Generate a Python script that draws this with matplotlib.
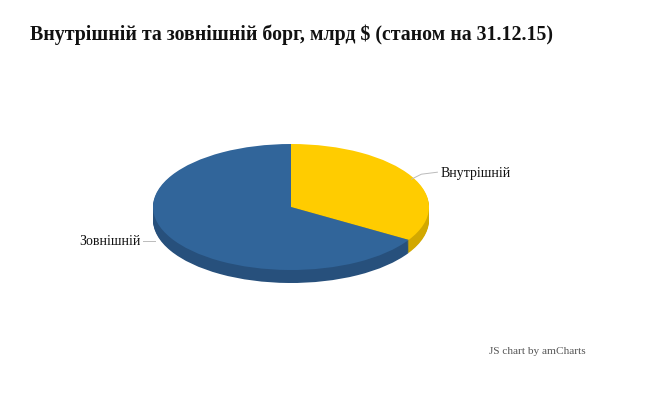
import numpy as np
import matplotlib
matplotlib.use("Agg")
import matplotlib.pyplot as plt

# ── data ─────────────────────────────────────────────────────────────────────
labels = ["Внутрішній", "Зовнішній"]
values = [22.1, 43.4]          # млрд $
title = "Внутрішній та зовнішній борг, млрд $ (станом на 31.12.15)"

# ── colours ──────────────────────────────────────────────────────────────────
C_TOP  = ["#FFCC00", "#31659A"]
C_SIDE = ["#D2A800", "#27507C"]

W, H = 645, 401
CX, CY = 291, 207      # pie centre (px, from top)
RX, RY = 138, 63       # ellipse radii (px)
DEPTH = 13             # 3D thickness (px)

plt.rcParams["font.family"] = ["Liberation Serif", "DejaVu Serif"]

fig = plt.figure(figsize=(W / 100, H / 100), dpi=100)
fig.patch.set_facecolor("white")

# pie axes: y extended downward to hold the side wall
extra = DEPTH / RY
ax = fig.add_axes([(CX - RX) / W, (H - CY - RY - DEPTH) / H,
                   2 * RX / W, (2 * RY + DEPTH) / H])

n = 14
for k in range(n, 0, -1):
    off = -extra * k / n
    ax.pie(values, colors=C_SIDE, startangle=90, counterclock=False,
           center=(0, off), wedgeprops=dict(linewidth=0))
ax.pie(values, colors=C_TOP, startangle=90, counterclock=False,
       wedgeprops=dict(linewidth=0))
ax.set_aspect("auto")
ax.set_xlim(-1, 1)
ax.set_ylim(-1 - extra, 1)
ax.axis("off")

# overlay in pixel coords for text
ov = fig.add_axes([0, 0, 1, 1], facecolor="none")
ov.set_xlim(0, W)
ov.set_ylim(H, 0)
ov.axis("off")

ov.text(30, 35, title, fontsize=14.3, fontweight="bold", va="center",
        ha="left", color="#111111")
ov.text(489, 352, "JS chart by amCharts", fontsize=8.1, color="#555555",
        va="center", ha="left")

# labels with leader lines from slice mid-angles
total = sum(values)
start = 0.0
for lab, v in zip(labels, values):
    mid = np.radians((start + v / 2) / total * 360)
    start += v
    px = CX + RX * np.sin(mid)
    py = CY - RY * np.cos(mid)
    if np.sin(mid) > 0:
        ex, ey = px + 26, py - 4
        ov.plot([px, px + 10, ex], [py + 3, py - 2, ey], color="#BBBBBB", lw=0.7)
        ov.text(ex + 3, ey + 1, lab, fontsize=10, ha="left", va="center",
                color="#111111")
    else:
        ex, ey = px - 28, py + 3
        ov.plot([px - 16, ex], [py + 3, ey], color="#BBBBBB", lw=0.7)
        ov.text(ex - 2, ey + 1, lab, fontsize=10, ha="right", va="center",
                color="#111111")

fig.savefig("out.png", dpi=100, facecolor="white")
